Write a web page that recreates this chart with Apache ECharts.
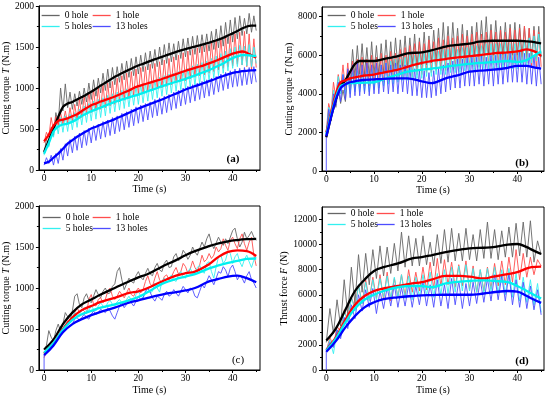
<!DOCTYPE html>
<html><head><meta charset="utf-8">
<script src="https://cdn.jsdelivr.net/npm/echarts@6/dist/echarts.min.js"></script>
<style>html,body{margin:0;padding:0;background:#fff}#c{width:550px;height:397px}</style>
</head><body><div id="c"></div>
<script>
// ---------- DATA ----------
const seriesNames = ['0 hole', '1 hole', '5 holes', '13 holes'];
const xTickLabels = [0, 10, 20, 30, 40];
const xMinorTicks = [5, 15, 25, 35, 45];

// Panel (a): cutting torque, raw samples every 0.5 s
const dtA = 0.5;
const rawA0 = [200,380,300,520,420,700,560,1000,720,1050,
 760,950,740,930,780,960,800,1000,830,1060,
 860,1100,900,1120,940,1180,970,1230,1000,1250,
 1040,1260,1070,1300,1100,1330,1130,1360,1150,1380,
 1170,1400,1200,1430,1220,1450,1240,1470,1260,1500,
 1280,1530,1300,1550,1320,1540,1340,1570,1360,1600,
 1380,1610,1400,1630,1410,1640,1430,1650,1440,1660,
 1450,1690,1470,1720,1490,1760,1510,1800,1540,1830,
 1560,1860,1600,1880,1640,1850,1660,1910,1680,1880,
 1700];
const rawA1 = [330,460,400,640,480,650,540,700,560,720,
 570,760,590,800,610,860,640,900,680,950,
 700,980,720,1000,740,1040,760,1060,780,1080,
 800,1120,830,1150,850,1180,870,1200,900,1230,
 920,1250,940,1260,960,1290,970,1300,990,1320,
 1000,1340,1020,1360,1040,1380,1060,1400,1080,1430,
 1090,1450,1110,1470,1130,1490,1150,1510,1160,1530,
 1180,1560,1200,1580,1220,1600,1240,1620,1260,1640,
 1270,1660,1290,1680,1280,1690,1260,1660,1220,1600,
 1250];
const rawA5 = [180,300,280,480,400,600,440,640,460,660,
 470,680,490,700,520,740,550,780,580,810,
 600,840,620,860,640,880,660,910,690,930,
 710,950,730,970,750,990,770,1000,790,1020,
 800,1040,820,1060,840,1080,860,1100,880,1130,
 900,1150,920,1170,940,1180,960,1200,980,1220,
 990,1240,1010,1270,1030,1290,1050,1310,1070,1330,
 1090,1360,1120,1390,1150,1420,1180,1450,1210,1480,
 1240,1500,1260,1520,1280,1510,1270,1530,1260,1500,
 1300];
const rawA13 = [60,150,80,180,60,200,80,260,120,320,
 170,370,210,410,240,450,270,480,300,510,
 330,540,360,560,380,590,400,610,420,640,
 440,660,470,690,490,710,520,740,540,770,
 570,790,590,810,610,830,640,860,660,880,
 680,900,700,920,730,950,750,970,780,1000,
 800,1020,820,1040,840,1060,860,1080,880,1100,
 900,1120,920,1140,950,1170,970,1190,990,1210,
 1010,1230,1020,1240,1030,1250,1040,1250,1050,1260,
 1070];
const fitTimeA = [0,1,2,3,4,5,6,7,8,9,10,11,12,13,14,15,16,17,18,19,20,21,22,23,24,25,26,27,28,29,30,31,32,33,34,35,36,37,38,39,40,41,42,43,44,45];
const fitA0 = [220,360,505,648,770,810,830,860,890,920,953,990,1030,1065,1100,1136,1165,1195,1222,1250,1275,1295,1318,1340,1360,1380,1400,1420,1440,1458,1474,1490,1505,1520,1536,1552,1572,1590,1612,1640,1666,1695,1725,1750,1760,1760];
const fitA1 = [350,430,540,600,615,630,655,680,720,755,790,810,835,855,875,896,920,945,970,1000,1022,1040,1058,1075,1092,1110,1130,1150,1170,1190,1210,1228,1245,1262,1280,1300,1322,1345,1370,1395,1420,1435,1445,1430,1400,1370];
const fitA5 = [200,330,470,530,555,566,590,620,660,690,717,740,762,785,808,830,850,868,886,903,920,940,960,980,1000,1022,1040,1058,1076,1094,1112,1132,1153,1175,1196,1218,1245,1272,1300,1335,1364,1385,1400,1400,1395,1390];
const fitA13 = [80,100,150,200,260,322,365,405,440,472,505,528,552,575,598,620,646,672,698,724,750,772,794,816,838,860,884,908,932,956,982,1002,1022,1042,1062,1083,1104,1126,1146,1166,1185,1195,1205,1210,1215,1218];

// Panel (b): cutting torque, raw samples every 0.5 s
const dtB = 0.5;
const rawB0 = [1800,3000,2600,3800,3300,4300,3500,4200,3600,5200,
 4500,6300,4900,6500,5000,6600,5000,6400,4900,6700,
 5000,6500,5000,6600,5100,6800,5200,6700,5200,6900,
 5300,6800,5400,7000,5400,6900,5500,7100,5400,6900,
 5500,7200,5500,7000,5600,7300,5700,7400,5700,7700,
 5800,7500,5800,7700,5900,7400,5900,7600,5900,7300,
 6000,7500,6000,7700,6000,7800,6100,8000,6100,7600,
 6000,7800,6100,7500,6000,7700,6100,7600,6000,7700,
 6000,7600,5900,7500,5900,7400,5800,7500,5800,7500,
 5900];
const rawB1 = [2000,3500,3000,4600,3800,5000,4300,5500,4200,5600,
 4200,5700,4300,5800,4300,5900,4400,5800,4400,6000,
 4500,5900,4500,6100,4600,6000,4600,6200,4700,6100,
 4700,6300,4800,6400,4900,6500,4900,6600,5000,6700,
 5000,6600,5100,6800,5100,6700,5200,6900,5200,6800,
 5200,7000,5300,6900,5300,7000,5300,7100,5400,7000,
 5300,7100,5400,7200,5400,7100,5500,7200,5400,7300,
 5500,7200,5500,7300,5500,7200,5600,7400,5500,7300,
 5600,7400,5600,7500,5600,7400,5400,7300,5300,7200,
 5400];
const rawB5 = [1900,3300,2900,4200,3700,4900,4000,5000,4000,5100,
 4000,5100,4100,5200,4100,5200,4100,5300,4100,5300,
 4200,5400,4300,5500,4400,5600,4500,5700,4500,5800,
 4600,5800,4700,5900,4700,6000,4800,6000,4800,6100,
 4800,6100,4900,6200,4900,6200,5000,6200,5000,6300,
 5000,6300,5100,6400,5100,6300,5100,6400,5200,6400,
 5200,6500,5200,6500,5300,6500,5300,6600,5300,6600,
 5300,6600,5300,6600,5300,6700,5300,6600,5300,6600,
 5300,6700,5400,6800,5500,6900,5600,7000,5700,7100,
 5900];
const rawB13 = [1800,3200,2700,4000,3400,4600,3600,5000,3700,5300,
 3800,5500,3900,5600,3900,5500,4000,5600,3900,5500,
 4000,5600,4000,5500,4100,5600,4000,5500,4100,5600,
 4000,5500,4100,5500,4000,5400,3900,5300,3900,5200,
 3800,5200,3800,5100,3800,5200,3900,5300,4000,5500,
 4100,5600,4200,5700,4300,5800,4300,5800,4400,5900,
 4400,5900,4400,5900,4500,6000,4400,5900,4500,6000,
 4400,6000,4500,6100,4500,6100,4600,6200,4600,6100,
 4600,6200,4600,6100,4500,6100,4500,6000,4400,5900,
 4500];
const fitTimeB = [0,1,2,3,4,5,6,7,8,10,12,15,17,20,22,25,28,30,32,35,38,40,42,43,44,45];
const fitB0 = [1750,2800,3700,4400,4700,5150,5550,5700,5700,5700,5800,5950,6100,6150,6250,6450,6550,6600,6700,6750,6750,6750,6720,6700,6650,6620];
const fitB1 = [2000,3000,4000,4600,4700,4800,4850,4900,4950,5000,5100,5250,5400,5600,5700,5800,5900,5950,6000,6100,6150,6200,6300,6250,6150,5950];
const fitB5 = [1900,2900,3800,4400,4500,4550,4560,4570,4580,4600,4750,5000,5150,5250,5300,5400,5500,5550,5600,5650,5700,5650,5750,5900,6050,6200];
const fitB13 = [1800,2800,3700,4300,4500,4600,4650,4700,4720,4750,4780,4800,4800,4650,4550,4800,5000,5150,5200,5250,5350,5450,5450,5400,5350,5300];

// Panel (c): cutting torque, raw samples every 0.5 s
const dtC = 0.5;
const rawC0 = [250,300,480,400,350,480,560,470,560,700,
 650,600,720,900,930,800,760,880,930,850,
 820,900,980,920,880,960,1000,930,940,1020,
 1050,1200,1250,1100,980,1050,1120,1080,1060,1150,
 1200,1130,1100,1180,1240,1170,1150,1250,1300,1220,
 1200,1300,1340,1250,1260,1380,1420,1330,1360,1460,
 1420,1350,1400,1500,1440,1400,1480,1560,1500,1600,
 1660,1550,1480,1550,1620,1560,1520,1600,1540,1620,
 1700,1730,1600,1500,1560,1680,1600,1640,1690,1620,
 1580];
const rawC1 = [150,220,280,260,330,380,430,420,480,540,
 600,580,620,700,760,700,740,720,690,860,
 920,800,780,860,880,820,860,960,1000,900,
 860,900,960,920,880,940,1000,920,900,960,
 1000,940,980,1080,1150,1050,1020,1120,1200,1100,
 1060,1140,1160,1100,1130,1200,1250,1170,1200,1300,
 1260,1180,1230,1330,1250,1200,1280,1400,1320,1350,
 1420,1360,1400,1500,1440,1480,1600,1520,1460,1580,
 1620,1540,1480,1600,1660,1540,1460,1560,1620,1400,
 1270];
const rawC5 = [200,250,290,280,340,400,430,440,500,560,
 580,600,650,700,660,680,720,760,720,730,
 780,740,720,780,820,780,760,820,850,800,
 780,830,860,820,800,860,900,850,840,920,
 960,900,880,950,1000,940,960,1060,1000,950,
 1080,1120,1060,1090,1160,1100,1080,1160,1200,1140,
 1120,1200,1240,1180,1160,1250,1280,1200,1180,1300,
 1320,1200,1120,1260,1380,1400,1300,1340,1450,1420,
 1300,1380,1420,1320,1260,1350,1400,1320,1250,1340,
 1380];
const rawC13 = [180,230,280,300,330,380,420,440,470,520,
 560,540,560,620,640,600,640,680,640,620,
 680,720,680,700,740,720,700,760,720,660,
 620,700,780,820,760,800,860,820,780,840,
 900,860,880,960,1000,950,880,840,900,880,
 850,920,960,900,920,980,940,900,960,1020,
 980,940,1000,980,900,880,960,1040,1000,1080,
 1150,1100,1040,1120,1200,1180,1260,1220,1140,1240,
 1280,1200,1100,1150,1120,1060,1150,1200,1100,1060,
 1000];
const fitTimeC = [0,2,4,6,8,10,12,15,18,20,22,25,28,30,32,35,37,39,41,43,45];
const fitC0 = [250,370,560,700,800,860,920,1000,1080,1130,1170,1260,1340,1400,1450,1510,1545,1570,1585,1595,1600];
const fitC1 = [200,330,500,640,730,780,830,880,940,960,1000,1080,1150,1180,1200,1290,1380,1440,1460,1450,1390];
const fitC5 = [210,330,490,610,680,720,760,800,850,890,950,1050,1110,1140,1170,1240,1275,1305,1330,1355,1360];
const fitC13 = [180,300,460,560,620,670,710,760,820,850,880,920,950,970,1000,1080,1110,1140,1150,1120,1070];

// Panel (d): thrust force, raw samples every 0.75 s
const dtD = 0.75;
const rawD0 = [2200,4900,2900,5600,3500,7200,4400,8200,5300,9200,
 6200,9300,6800,9600,7300,9900,7500,9800,7700,10100,
 7900,11000,8200,10700,8300,10500,8300,10700,8400,10200,
 8300,10800,8500,11200,8600,11300,8700,10900,8700,11300,
 8800,10800,8700,11200,8900,11800,8900,11200,8800,11100,
 9000,11400,9000,11700,9100,11800,9000,11900,8600,10300,
 9200];
const rawD1 = [1500,2600,1900,3500,3000,4800,4000,5800,5000,6800,
 5300,7200,5600,7400,5700,7600,5600,7800,5500,7300,
 5800,7600,5900,8000,6200,7800,6300,8200,6400,8600,
 6500,8900,6700,8800,6800,8600,6600,8400,6700,8700,
 6400,8300,6200,8000,6300,8200,6500,8500,6700,8700,
 6800,9000,7000,9600,7200,9300,7400,9000,7600,8800,
 8300];
const rawD5 = [1500,2400,1300,3200,2700,4700,3800,5800,4700,6800,
 5300,7000,5500,7200,5600,7300,5800,7500,5700,7400,
 5800,7600,5700,7500,5600,7400,5800,7600,5900,7800,
 5800,7700,6000,8000,6100,8200,6200,8300,6300,8400,
 6300,8100,6200,8000,6200,8100,6300,8200,6100,8000,
 6000,8100,5800,7700,5500,7400,5400,7200,5200,6900,
 4600];
const rawD13 = [1500,2200,1800,3200,2500,4200,3300,5200,4100,6000,
 4700,6400,5000,6500,4500,6300,4900,6600,5100,6800,
 5000,6600,5100,6800,5000,6700,5200,7000,5100,6800,
 5000,7200,5100,6800,4900,7300,5200,7100,4900,6900,
 5100,7000,5300,7200,5400,7300,5500,7600,5600,7500,
 5500,7700,5200,7200,5000,7000,4900,6700,4800,6400,
 4400];
const fitTimeD = [0,2,4,6,8,10,12,15,18,20,22,25,28,30,33,35,38,40,42,43,45];
const fitD0 = [2350,3300,4800,6300,7200,7900,8200,8500,8900,9000,9150,9400,9600,9700,9750,9800,10000,10050,9800,9600,9250];
const fitD1 = [1600,2600,4000,5200,5900,6300,6500,6700,6900,7000,7200,7500,7500,7450,7300,7450,7650,7800,8100,8200,8250];
const fitD5 = [1550,2500,3800,4900,5600,6000,6300,6600,6700,6700,6600,6900,7050,7100,7150,7100,7000,6700,6300,6100,5700];
const fitD13 = [1450,2300,3400,4300,5000,5400,5650,5800,5900,5950,5970,6000,6000,6000,6100,6200,6300,6250,5900,5700,5350];

const yTicksTorqueSmall = [0, 500, 1000, 1500, 2000];
const yMinorTorqueSmall = [250, 750, 1250, 1750];
const yTicksTorqueLarge = [0, 2000, 4000, 6000, 8000];
const yMinorTorqueLarge = [1000, 3000, 5000, 7000];
const yTicksThrust = [0, 2000, 4000, 6000, 8000, 10000, 12000];
const yMinorThrust = [1000, 3000, 5000, 7000, 9000, 11000];

// ---------- STYLE / LAYOUT ----------
const FONT = '"Liberation Serif","Times New Roman",serif';
const rawColors = ['#666666', '#ff4d4d', '#33f0f0', '#4d4dff'];
const fitColors = ['#000000', '#ff0000', '#00f0f0', '#0000ff'];

const panels = [
  { grid:{left:36, top:6, width:224, height:164}, xr:[-1.1,45.8], yr:[0,2000],
    yTicks:yTicksTorqueSmall, yMinor:yMinorTorqueSmall, yName:['Cutting torque ','T',' (N.m)'], yGap:24, xGap:14,
    dt:dtA, raw:[rawA0,rawA1,rawA5,rawA13], fitT:fitTimeA, fit:[fitA0,fitA1,fitA5,fitA13], zeroStart:[false,false,false,false],
    legLeft:[41,92], legTop:10, label:'(a)', labelPos:[233,159], bold:true, smooth:0.2 },
  { grid:{left:322, top:7, width:222, height:164}, xr:[-0.9,45.6], yr:[0,8500],
    yTicks:yTicksTorqueLarge, yMinor:yMinorTorqueLarge, yName:['Cutting torque ','T',' (N.m)'], yGap:27, xGap:13,
    dt:dtB, raw:[rawB0,rawB1,rawB5,rawB13], fitT:fitTimeB, fit:[fitB0,fitB1,fitB5,fitB13], zeroStart:[false,false,false,true],
    legLeft:[327,377], legTop:10, label:'(b)', labelPos:[522,163], bold:true, smooth:0.3 },
  { grid:{left:36, top:206, width:224, height:164}, xr:[-1.1,45.8], yr:[0,2000],
    yTicks:yTicksTorqueSmall, yMinor:yMinorTorqueSmall, yName:['Cutting torque ','T',' (N.m)'], yGap:24, xGap:15,
    dt:dtC, raw:[rawC0,rawC1,rawC5,rawC13], fitT:fitTimeC, fit:[fitC0,fitC1,fitC5,fitC13], zeroStart:[false,false,false,true],
    legLeft:[42,92], legTop:212, label:'(c)', labelPos:[238,360], bold:false, smooth:0.4 },
  { grid:{left:322, top:207, width:222, height:163}, xr:[-0.9,45.6], yr:[0,13000],
    yTicks:yTicksThrust, yMinor:yMinorThrust, yName:['Thrust force ','F',' (N)'], yGap:31, xGap:15,
    dt:dtD, raw:[rawD0,rawD1,rawD5,rawD13], fitT:fitTimeD, fit:[fitD0,fitD1,fitD5,fitD13], zeroStart:[false,false,false,true],
    legLeft:[327,376], legTop:208, label:'(d)', labelPos:[522,361], bold:true, smooth:0.4 }
];

const grids = [], xAxes = [], yAxes = [], series = [], legends = [], graphics = [];
const txt = {fontFamily:FONT, fontSize:9.5, color:'#000', formatter: v => String(v)};
panels.forEach((p, i) => {
  grids.push(Object.assign({show:true, borderColor:'#000', borderWidth:1, backgroundColor:'transparent'}, p.grid));
  xAxes.push({type:'value', gridIndex:i, position:'bottom', min:p.xr[0], max:p.xr[1], splitLine:{show:false},
    axisLine:{onZero:false, lineStyle:{color:'#000', width:1}},
    axisTick:{customValues:xTickLabels, length:3, lineStyle:{color:'#000'}},
    axisLabel:{customValues:xTickLabels, margin:3, ...txt},
    name:'Time (s)', nameLocation:'middle', nameGap:p.xGap, nameTextStyle:{fontFamily:FONT, fontSize:10, color:'#000'}});
  xAxes.push({type:'value', gridIndex:i, position:'bottom', offset:0, min:p.xr[0], max:p.xr[1], splitLine:{show:false},
    axisLine:{show:false, onZero:false}, axisLabel:{show:false},
    axisTick:{customValues:xMinorTicks, length:2, lineStyle:{color:'#000'}}});
  yAxes.push({type:'value', gridIndex:i, position:'left', min:p.yr[0], max:p.yr[1], splitLine:{show:false},
    axisLine:{onZero:false, lineStyle:{color:'#000', width:1}},
    axisTick:{customValues:p.yTicks, length:3, lineStyle:{color:'#000'}},
    axisLabel:{customValues:p.yTicks, margin:5, ...txt},
    name:'{n|'+p.yName[0]+'}{i|'+p.yName[1]+'}{n|'+p.yName[2]+'}', nameLocation:'middle', nameRotate:90, nameGap:p.yGap,
    nameTextStyle:{rich:{n:{fontFamily:FONT, fontSize:10, color:'#000'}, i:{fontFamily:FONT, fontSize:10, fontStyle:'italic', color:'#000'}}}});
  yAxes.push({type:'value', gridIndex:i, position:'left', offset:0, min:p.yr[0], max:p.yr[1], splitLine:{show:false},
    axisLine:{show:false, onZero:false}, axisLabel:{show:false},
    axisTick:{customValues:p.yMinor, length:2, lineStyle:{color:'#000'}}});
  p.raw.forEach((arr, j) => {
    const data = arr.map((v, k) => [k * p.dt, v]);
    if (p.zeroStart[j]) data.unshift([0, 0]);
    series.push({type:'line', name:seriesNames[j], xAxisIndex:2*i, yAxisIndex:2*i, data,
      symbol:'none', showSymbol:false, lineStyle:{width:0.9, color:rawColors[j]}, itemStyle:{color:rawColors[j]},
      z:2, animation:false, silent:true});
  });
  p.fit.forEach((arr, j) => {
    series.push({type:'line', name:seriesNames[j]+' fit '+i, xAxisIndex:2*i, yAxisIndex:2*i,
      data:arr.map((v, k) => [p.fitT[k], v]), symbol:'none', showSymbol:false, smooth:p.smooth,
      lineStyle:{width:2.3, color:fitColors[j]}, itemStyle:{color:fitColors[j]}, z:3, animation:false, silent:true});
  });
  [[seriesNames[0], seriesNames[2]], [seriesNames[1], seriesNames[3]]].forEach((names, c) => {
    legends.push({orient:'vertical', left:p.legLeft[c], top:p.legTop, padding:0, itemGap:0,
      itemWidth:18, itemHeight:11, selectedMode:false, data:names,
      itemStyle:{opacity:0}, lineStyle:{width:1.3},
      textStyle:{fontFamily:FONT, fontSize:9.5, color:'#000', lineHeight:11}});
  });
  graphics.push({type:'text', x:p.labelPos[0], y:p.labelPos[1], silent:true,
    style:{text:p.label, fill:'#000', font:(p.bold?'bold ':'')+'11px '+FONT, textAlign:'center', textVerticalAlign:'middle'}});
});

const chart = echarts.init(document.getElementById('c'), null, {renderer:'canvas'});
chart.setOption({animation:false, backgroundColor:'#fff', grid:grids, xAxis:xAxes, yAxis:yAxes,
  series, legend:legends, graphic:graphics});
</script></body></html>
